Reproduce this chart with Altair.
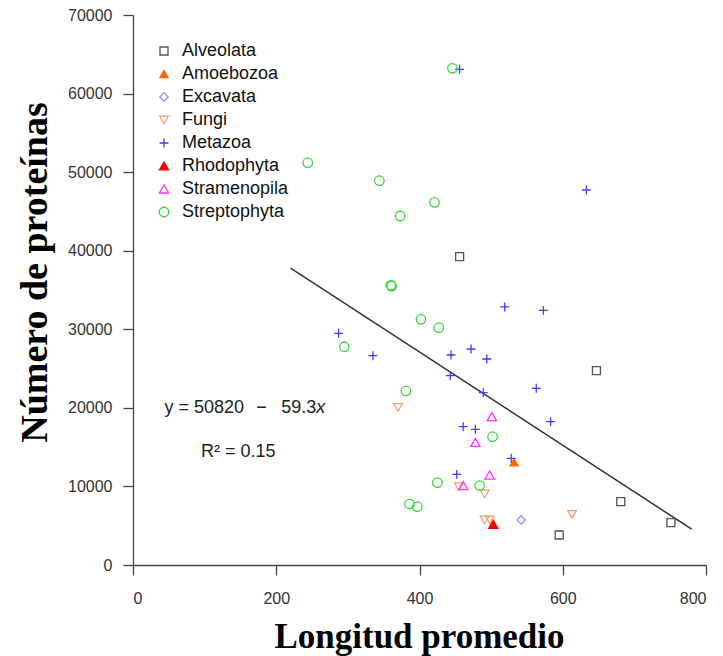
import altair as alt
import pandas as pd

groups = ["Alveolata", "Amoebozoa", "Excavata", "Fungi", "Metazoa",
          "Rhodophyta", "Stramenopila", "Streptophyta"]
stroke_colors = ["#555555", "#FF6A00", "#9B8CFF", "#F4A070", "#3F3FFF",
                 "#FF0000", "#FF33FF", "#33D633"]
fill_colors = ["transparent", "#FF6A00", "transparent", "transparent", "transparent",
               "#FF0000", "transparent", "transparent"]
shapes = ["square", "triangle-up", "diamond", "triangle-down", "M-1,0H1M0,-1V1",
          "triangle-up", "triangle-up", "circle"]
sizes = [64, 90, 100, 100, 100, 90, 100, 64]

alveolata_x = [456, 647, 681, 751, 595]
alveolata_y = [39240, 24730, 8060, 5390, 3820]
amoebozoa_x = [532]
amoebozoa_y = [13070]
excavata_x = [542]
excavata_y = [5730]
fungi_x = [370, 455, 491, 491, 498, 613]
fungi_y = [20070, 9970, 9040, 5730, 5730, 6450]
metazoa_x = [456, 633, 519, 573, 287, 335, 444, 472, 494, 443, 489, 563, 583, 461, 478, 528, 452]
metazoa_y = [63090, 47730, 32840, 32410, 29490, 26640, 26730, 27490, 26220, 24100, 21930,
             22490, 18240, 17600, 17270, 13580, 11540]
rhodophyta_x = [503]
rhodophyta_y = [5180]
stramenopila_x = [501, 478, 498, 461]
stramenopila_y = [18880, 15610, 11450, 10100]
streptophyta_x = [446, 244, 344, 421, 373, 360, 361, 402, 427, 295, 381, 502, 425, 484, 386, 397]
streptophyta_y = [63220, 51200, 48910, 46160, 44420, 35600, 35500, 31270, 30200, 27780,
                  22150, 16330, 10480, 10100, 7760, 7420]

series = {
    "Alveolata": (alveolata_x, alveolata_y),
    "Amoebozoa": (amoebozoa_x, amoebozoa_y),
    "Excavata": (excavata_x, excavata_y),
    "Fungi": (fungi_x, fungi_y),
    "Metazoa": (metazoa_x, metazoa_y),
    "Rhodophyta": (rhodophyta_x, rhodophyta_y),
    "Stramenopila": (stramenopila_x, stramenopila_y),
    "Streptophyta": (streptophyta_x, streptophyta_y),
}

fit_x = [220, 780]
fit_y = [37774, 4566]

x_ticks = [0, 200, 400, 600, 800]
y_ticks = [0, 10000, 20000, 30000, 40000, 50000, 60000, 70000]

eq_a_text = ["y = 50820"]
eq_a_pos = [44, 19350]
eq_m_text = ["\u2212"]
eq_m_pos = [172, 19350]
eq_b_text = ["59.3"]
eq_b_pos = [207, 19350]
eq_x_text = ["x"]
eq_x_pos = [256, 19350]
r2_text = ["R\u00b2 = 0.15"]
r2_pos = [95, 13780]

rows = []
for g, (xs, ys) in series.items():
    for a, b in zip(xs, ys):
        rows.append({"Longitud": a, "Proteinas": b, "Grupo": g})
df = pd.DataFrame(rows)

xscale = alt.Scale(domain=[0, 800], nice=False, zero=False)
yscale = alt.Scale(domain=[0, 70000], nice=False, zero=False)

xaxis = alt.Axis(values=x_ticks, title="Longitud promedio", format="d",
                 titleX=286, titleY=82, titleBaseline="alphabetic", titleAlign="center",
                 titleFont="Liberation Serif", titleFontWeight="bold", titleFontSize=35,
                 labelPadding=15)
yaxis = alt.Axis(values=y_ticks, title="Número de proteínas", format="d",
                 titleX=-87, titleY=257, titleBaseline="alphabetic", titleAlign="center",
                 titleAngle=270,
                 titleFont="Liberation Serif", titleFontWeight="bold", titleFontSize=38,
                 labelPadding=11)

points = alt.Chart(df).mark_point(strokeWidth=1.3, opacity=1).encode(
    x=alt.X("Longitud:Q", scale=xscale, axis=xaxis),
    y=alt.Y("Proteinas:Q", scale=yscale, axis=yaxis),
    stroke=alt.Stroke("Grupo:N", scale=alt.Scale(domain=groups, range=stroke_colors),
                      legend=alt.Legend(title=None)),
    fill=alt.Fill("Grupo:N", scale=alt.Scale(domain=groups, range=fill_colors),
                  legend=alt.Legend(title=None)),
    shape=alt.Shape("Grupo:N", scale=alt.Scale(domain=groups, range=shapes),
                    legend=alt.Legend(title=None)),
    size=alt.Size("Grupo:N", scale=alt.Scale(domain=groups, range=sizes),
                  legend=alt.Legend(title=None)),
)

fit_df = pd.DataFrame({"Longitud": fit_x, "Proteinas": fit_y})
fit = alt.Chart(fit_df).mark_line(color="#333333", strokeWidth=1.5).encode(
    x=alt.X("Longitud:Q", scale=xscale),
    y=alt.Y("Proteinas:Q", scale=yscale),
)

def label(texts, pos, style="normal"):
    d = pd.DataFrame({"t": texts, "x": [pos[0]], "y": [pos[1]]})
    return alt.Chart(d).mark_text(align="left", baseline="alphabetic", font="Liberation Sans",
                                  fontSize=18, color="#222222", fontStyle=style).encode(
        x=alt.X("x:Q", scale=xscale), y=alt.Y("y:Q", scale=yscale), text="t:N")

chart = alt.layer(
    fit, points,
    label(eq_a_text, eq_a_pos), label(eq_m_text, eq_m_pos), label(eq_b_text, eq_b_pos),
    label(eq_x_text, eq_x_pos, "italic"), label(r2_text, r2_pos),
).properties(
    width=573, height=550,
    autosize=alt.AutoSizeParams(type="none"),
    padding={"left": 133, "top": 15, "right": 17, "bottom": 91},
).configure_view(stroke="transparent").configure_axis(
    grid=False, domainColor="#444444", tickColor="#444444", domainWidth=1.3, tickWidth=1.3,
    tickSize=10, labelFont="Liberation Sans", labelFontSize=16, labelColor="#333333",
    titleColor="#000000",
).configure_legend(
    orient="none", legendX=22, legendY=27, padding=0,
    labelFont="Liberation Sans", labelFontSize=18, labelColor="#111111", labelOffset=9,
    rowPadding=5, symbolStrokeWidth=1.3,
)

chart.save("out.html", embed_options={"renderer": "svg", "actions": False})
